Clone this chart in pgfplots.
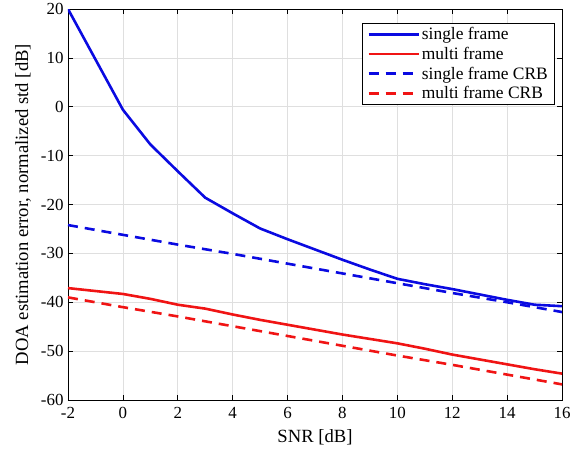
\documentclass[border=0pt]{standalone}
\usepackage{pgfplots}
\pgfplotsset{compat=1.18}
\usepackage{fontspec}
\setmainfont{Liberation Serif}
\definecolor{mblue}{RGB}{10,10,225}
\definecolor{mred}{RGB}{240,20,20}
\begin{document}
\begin{tikzpicture}
\begin{axis}[
  scale only axis,
  width=494bp, height=391bp,
  xmin=-2, xmax=16, ymin=-60, ymax=20,
  xtick={-2,0,...,16}, ytick={-60,-50,...,20},
  grid=major,
  major grid style={gray!25, line width=0.6pt},
  tick align=inside,
  xtick pos=both, ytick pos=both,
  major tick length=5bp,
  axis line style={black, line width=0.6pt},
  tick style={black, line width=0.6pt},
  tick label style={font=\fontsize{17}{19}\selectfont},
  label style={font=\fontsize{18.7}{20}\selectfont},
  /pgf/number format/assume math mode=true,
  xticklabel style={yshift=-4bp},
  yticklabel style={xshift=-1bp},
  xlabel={SNR [dB]},
  ylabel={DOA estimation error, normalized std [dB]},
  xlabel style={yshift=-4bp},
  ylabel style={yshift=3bp},
  legend cell align=left,
  legend style={at={(0.986,0.964)}, anchor=north east, draw=black, line width=0.6pt,
    font=\fontsize{17.5}{18.5}\selectfont, row sep=2pt, inner sep=2pt, inner xsep=5pt},
  legend image code/.code={\draw[mark repeat=2,mark phase=2,#1,line width=2.6pt] plot coordinates {(0cm,0cm) (0.9cm,0cm) (1.76cm,0cm)};},
]
\addplot[mblue, line width=2.6pt] coordinates {
(-2,20) (0,-0.6) (1,-7.7) (2,-13.2) (3,-18.6) (4,-21.8) (5,-24.9) (6,-27.1) (7,-29.2) (8,-31.3) (9,-33.3) (10,-35.2) (11,-36.3) (12,-37.3) (13,-38.4) (14,-39.5) (15,-40.5) (16,-40.8)
};
\addlegendentry{single frame}
\addplot[mred, line width=2.6pt] coordinates {
(-2,-37.1) (0,-38.3) (1,-39.3) (2,-40.5) (3,-41.3) (4,-42.5) (5,-43.6) (6,-44.6) (7,-45.6) (8,-46.6) (9,-47.5) (10,-48.4) (11,-49.5) (12,-50.7) (13,-51.7) (14,-52.7) (15,-53.7) (16,-54.6)
};
\addlegendentry{multi frame}
\addplot[mblue, line width=2.6pt, dash pattern=on 10bp off 7bp] coordinates {
(-2,-24.2) (0,-26.2) (2,-28.2) (4,-30.1) (6,-32.1) (8,-34.1) (10,-36.1) (12,-38.1) (14,-40.0) (16,-42.0)
};
\addlegendentry{single frame CRB\hspace{10bp}}
\addplot[mred, line width=2.6pt, dash pattern=on 10bp off 7bp] coordinates {
(-2,-39.0) (0,-41.0) (2,-42.9) (4,-44.9) (6,-46.9) (8,-48.9) (10,-50.9) (12,-52.8) (14,-54.8) (16,-56.8)
};
\addlegendentry{multi frame CRB}
\coordinate (bl) at (rel axis cs:0,0);
\coordinate (tr) at (rel axis cs:1,1);
\end{axis}
\path[use as bounding box] ([xshift=-68bp,yshift=-54bp]bl) rectangle ([xshift=25bp,yshift=6bp]tr);
\end{tikzpicture}
\end{document}
